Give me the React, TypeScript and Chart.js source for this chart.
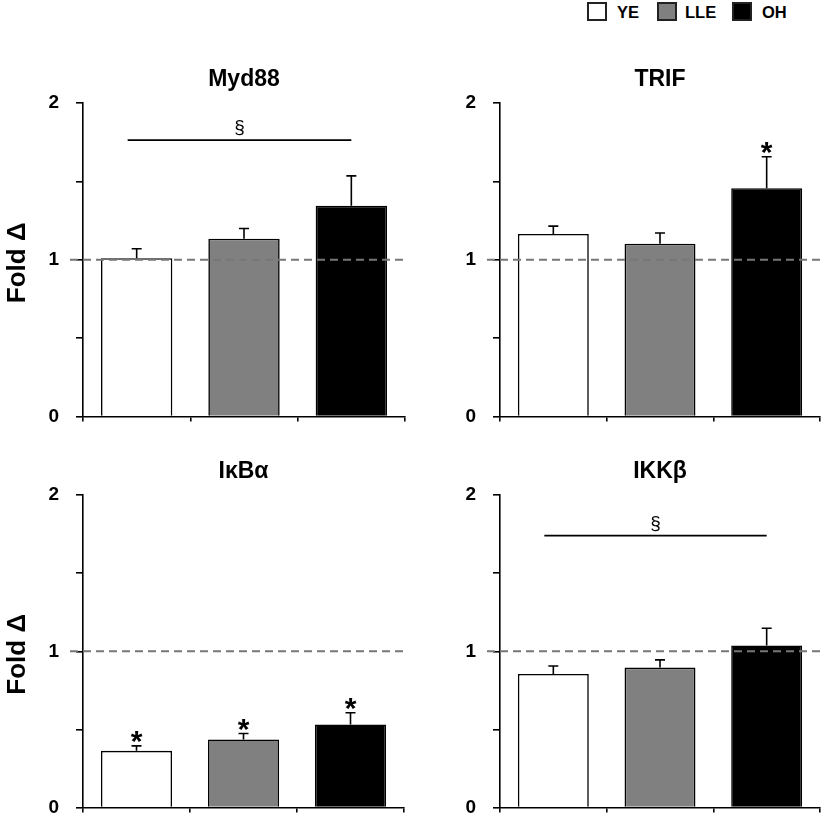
import React, { useEffect, useRef } from 'react';
import { Chart, registerables } from 'chart.js';

Chart.register(...registerables);

const FONT = '"Liberation Sans", Arial, Helvetica, sans-serif';

const groups = ['YE', 'LLE', 'OH'];
const groupColors = ['#ffffff', '#808080', '#000000'];
const yTickValues = [0, 0.5, 1, 1.5, 2];

const myd88Mean = [1.01, 1.135, 1.345];
const myd88Err = [0.06, 0.065, 0.19];
const myd88Stars = [false, false, false];
const myd88Sig = 1.763;

const trifMean = [1.165, 1.103, 1.457];
const trifErr = [0.05, 0.068, 0.2];
const trifStars = [false, false, true];
const trifSig: number | null = null;

const ikbaMean = [0.363, 0.436, 0.532];
const ikbaErr = [0.032, 0.038, 0.075];
const ikbaStars = [true, true, true];
const ikbaSig: number | null = null;

const ikkbMean = [0.855, 0.896, 1.037];
const ikkbErr = [0.051, 0.049, 0.11];
const ikkbStars = [false, false, false];
const ikkbSig = 1.74;

type PanelDef = {
  title: string;
  mean: number[];
  err: number[];
  stars: boolean[];
  sig: number | null;
  yTitle: boolean;
  left: number;
  top: number;
  width: number;
  height: number;
  padTop: number;
  padRight: number;
  yWidth: number;
  xHeight: number;
};

const panels: PanelDef[] = [
  { title: 'Myd88', mean: myd88Mean, err: myd88Err, stars: myd88Stars, sig: myd88Sig, yTitle: true,
    left: 0, top: 55, width: 415, height: 390, padTop: 48, padRight: 10, yWidth: 83, xHeight: 9 },
  { title: 'TRIF', mean: trifMean, err: trifErr, stars: trifStars, sig: trifSig, yTitle: false,
    left: 415, top: 55, width: 407, height: 390, padTop: 48, padRight: 2, yWidth: 85, xHeight: 9 },
  { title: 'I\u03BAB\u03B1', mean: ikbaMean, err: ikbaErr, stars: ikbaStars, sig: ikbaSig, yTitle: true,
    left: 0, top: 440, width: 415, height: 396, padTop: 55, padRight: 11, yWidth: 83, xHeight: 6 },
  { title: 'IKK\u03B2', mean: ikkbMean, err: ikkbErr, stars: ikkbStars, sig: ikkbSig, yTitle: false,
    left: 415, top: 440, width: 407, height: 396, padTop: 55, padRight: 2, yWidth: 85, xHeight: 6 },
];

const decorPlugin = {
  id: 'panelDecor',
  afterDatasetsDraw(chart: any, _args: any, opts: any) {
    const { ctx, chartArea: a, scales } = chart;
    const x = scales.x;
    const y = scales.y;
    const p: PanelDef = opts.panel;
    if (!p) return;
    ctx.save();
    // reference dashed line at 1
    const y1 = y.getPixelForValue(1);
    ctx.strokeStyle = '#777777';
    ctx.lineWidth = 2;
    ctx.setLineDash([8, 5]);
    ctx.beginPath();
    ctx.moveTo(a.left - 13, y1);
    ctx.lineTo(a.right, y1);
    ctx.stroke();
    ctx.setLineDash([]);

    // error bars
    const meta = chart.getDatasetMeta(0);
    ctx.strokeStyle = '#000';
    ctx.lineWidth = 1.6;
    meta.data.forEach((bar: any, i: number) => {
      const cx = bar.x;
      const topPx = y.getPixelForValue(p.mean[i] + p.err[i]);
      ctx.beginPath();
      ctx.moveTo(cx, bar.y);
      ctx.lineTo(cx, topPx);
      ctx.moveTo(cx - 5, topPx);
      ctx.lineTo(cx + 5, topPx);
      ctx.stroke();
      if (p.stars[i]) {
        ctx.fillStyle = '#000';
        ctx.font = `bold 30px ${FONT}`;
        ctx.textAlign = 'center';
        ctx.textBaseline = 'alphabetic';
        ctx.fillText('*', cx, topPx + 5);
      }
    });

    // significance bracket
    if (p.sig !== null) {
      const sy = y.getPixelForValue(p.sig);
      const x1 = x.getPixelForValue(0) - 9;
      const x2 = x.getPixelForValue(2);
      ctx.lineWidth = 1.6;
      ctx.beginPath();
      ctx.moveTo(x1, sy);
      ctx.lineTo(x2, sy);
      ctx.stroke();
      ctx.fillStyle = '#000';
      ctx.font = `19px ${FONT}`;
      ctx.textAlign = 'center';
      ctx.textBaseline = 'middle';
      ctx.fillText('\u00A7', (x1 + x2) / 2, sy - 12);
    }

    // title
    ctx.fillStyle = '#000';
    ctx.font = `bold 23px ${FONT}`;
    ctx.textAlign = 'center';
    ctx.textBaseline = 'middle';
    ctx.fillText(p.title, (a.left + a.right) / 2, a.top - 23);

    // y axis title
    if (p.yTitle) {
      ctx.translate(18, (a.top + a.bottom) / 2 + 3);
      ctx.rotate(-Math.PI / 2);
      ctx.font = `bold 26px ${FONT}`;
      ctx.fillText('Fold \u0394', 0, 0);
    }
    ctx.restore();
  },
};

function Panel({ def }: { def: PanelDef }) {
  const ref = useRef<HTMLCanvasElement | null>(null);
  useEffect(() => {
    if (!ref.current) return;
    const chart = new Chart(ref.current, {
      type: 'bar',
      data: {
        labels: groups,
        datasets: [
          {
            data: def.mean,
            backgroundColor: groupColors,
            borderColor: '#000000',
            borderWidth: 1.6,
            barPercentage: 0.665,
            categoryPercentage: 1.0,
          },
        ],
      },
      options: {
        responsive: false,
        animation: false,
        devicePixelRatio: 1,
        layout: { padding: { top: def.padTop, right: def.padRight, left: 0, bottom: 0 } },
        plugins: {
          legend: { display: false },
          tooltip: { enabled: false },
          title: { display: false },
          panelDecor: { panel: def },
        } as any,
        scales: {
          x: {
            type: 'category',
            offset: true,
            grid: {
              offset: true,
              drawOnChartArea: false,
              drawTicks: true,
              tickLength: 5,
              color: '#000',
              lineWidth: 1.6,
            },
            border: { display: true, color: '#000', width: 1.6 },
            ticks: { display: false },
            afterFit: (s: any) => {
              s.height = def.xHeight;
            },
          },
          y: {
            min: 0,
            max: 2,
            afterBuildTicks: (s: any) => {
              s.ticks = yTickValues.map((v) => ({ value: v }));
            },
            ticks: {
              color: '#000',
              font: { family: FONT, size: 19, weight: 'bold' },
              padding: 17,
              callback: (v: any) => (Number.isInteger(Number(v)) ? String(v) : ''),
            },
            grid: {
              drawOnChartArea: false,
              drawTicks: true,
              tickLength: 7,
              color: '#000',
              lineWidth: 1.6,
            },
            border: { display: true, color: '#000', width: 1.6 },
            afterFit: (s: any) => {
              s.width = def.yWidth;
            },
          },
        },
      } as any,
      plugins: [decorPlugin],
    });
    return () => chart.destroy();
  }, [def]);
  return (
    <div style={{ position: 'absolute', left: def.left, top: def.top, width: def.width, height: def.height }}>
      <canvas ref={ref} width={def.width} height={def.height} style={{ display: 'block' }} />
    </div>
  );
}

const legendItems = [
  { label: groups[0], color: groupColors[0], box: 587, text: 617 },
  { label: groups[1], color: groupColors[1], box: 657, text: 685 },
  { label: groups[2], color: groupColors[2], box: 732, text: 762 },
];

export default function App() {
  return (
    <div
      style={{
        position: 'absolute',
        left: 0,
        top: 0,
        width: 822,
        height: 824,
        background: '#ffffff',
        overflow: 'hidden',
        fontFamily: FONT,
      }}
    >
      {legendItems.map((it) => (
        <React.Fragment key={it.label}>
          <div
            style={{
              position: 'absolute',
              left: it.box,
              top: 2,
              width: 20,
              height: 19,
              boxSizing: 'border-box',
              border: '2px solid #222',
              background: it.color,
            }}
          />
          <div
            style={{
              position: 'absolute',
              left: it.text,
              top: 2,
              height: 20,
              lineHeight: '20px',
              fontSize: 16.5,
              fontWeight: 'bold',
              color: '#000',
              whiteSpace: 'nowrap',
            }}
          >
            {it.label}
          </div>
        </React.Fragment>
      ))}
      {panels.map((p) => (
        <Panel key={p.title} def={p} />
      ))}
    </div>
  );
}
